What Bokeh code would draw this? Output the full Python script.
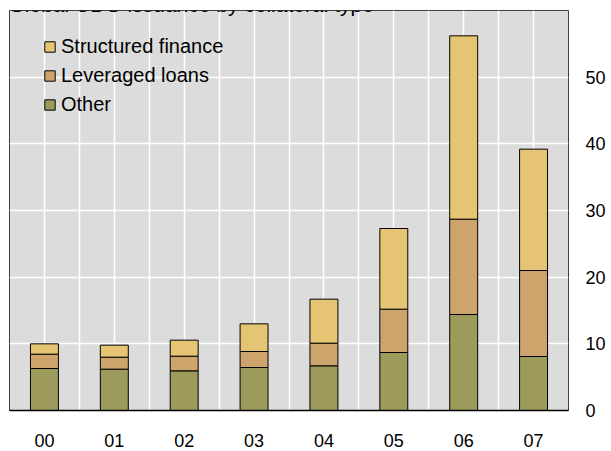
from bokeh.plotting import figure
from bokeh.models import FixedTicker, Range1d, Legend, LegendItem, Label, ColumnDataSource
from bokeh.embed import file_html
from bokeh.resources import INLINE

title_text = "Global CDO issuance by collateral type"
years = ["00", "01", "02", "03", "04", "05", "06", "07"]
series_names = ["Structured finance", "Leveraged loans", "Other"]
other = [6.3, 6.2, 5.95, 6.45, 6.7, 8.7, 14.4, 8.1]
leveraged = [2.15, 1.8, 2.2, 2.4, 3.4, 6.5, 14.3, 12.9]
structured = [1.55, 1.8, 2.4, 4.15, 6.6, 12.1, 27.5, 18.2]
y_ticks = [0, 10, 20, 30, 40, 50]

colors = {"Other": "#9C9B5C", "Leveraged loans": "#CDA46B", "Structured finance": "#E5C574"}
FONT = "Liberation Sans"

xs = list(range(len(years)))
src = ColumnDataSource(dict(x=xs, other=other, leveraged=leveraged, structured=structured))

p = figure(frame_width=559, frame_height=400, output_backend="svg", toolbar_location=None,
           x_range=Range1d(-0.5, len(years) - 0.5), y_range=Range1d(0, 60),
           y_axis_location="right", min_border_left=9, min_border_top=10,
           min_border_bottom=0, min_border_right=0)

p.background_fill_color = "#DCDCDC"
p.border_fill_color = "white"
p.outline_line_color = "#404040"
p.outline_line_width = 1

renderers = p.vbar_stack(["other", "leveraged", "structured"], x="x", width=0.4, source=src,
                         color=[colors["Other"], colors["Leveraged loans"], colors["Structured finance"]],
                         line_color="black", line_width=1)

# grids
p.xgrid.ticker = FixedTicker(ticks=[i * 0.5 for i in range(0, 2 * len(years) - 1)])
p.xgrid.grid_line_color = "white"
p.xgrid.grid_line_width = 1.5
p.ygrid.ticker = FixedTicker(ticks=y_ticks[1:])
p.ygrid.grid_line_color = "white"
p.ygrid.grid_line_width = 1.5
p.grid.level = "underlay"

# x axis
p.xaxis.ticker = FixedTicker(ticks=xs)
p.xaxis.major_label_overrides = {i: y for i, y in enumerate(years)}
p.xaxis.major_tick_line_color = None
p.xaxis.minor_tick_line_color = None
p.xaxis.major_tick_out = 0
p.xaxis.major_tick_in = 0
p.xaxis.axis_line_color = "black"
p.xaxis.axis_line_width = 1.5
p.xaxis.major_label_standoff = 23
p.xaxis.major_label_text_font = FONT
p.xaxis.major_label_text_font_size = "18px"
p.xaxis.major_label_text_color = "black"

# y axis (right)
p.yaxis.ticker = FixedTicker(ticks=y_ticks)
p.yaxis.major_tick_line_color = None
p.yaxis.minor_tick_line_color = None
p.yaxis.major_tick_out = 0
p.yaxis.major_tick_in = 0
p.yaxis.axis_line_color = None
p.yaxis.major_label_standoff = 17
p.yaxis.major_label_text_font = FONT
p.yaxis.major_label_text_font_size = "18px"
p.yaxis.major_label_text_color = "black"

# legend
items = [LegendItem(label="Structured finance", renderers=[renderers[2]]),
         LegendItem(label="Leveraged loans", renderers=[renderers[1]]),
         LegendItem(label="Other", renderers=[renderers[0]])]
legend = Legend(items=items, location=(34, 294), margin=0, padding=0,
                background_fill_alpha=0, border_line_alpha=0,
                glyph_width=13, glyph_height=13, label_standoff=5, spacing=6,
                label_text_font=FONT, label_text_font_size="20px", label_text_color="black")
p.add_layout(legend, "center")

# title (cropped at the top edge, as in the reference)
title = Label(x=-0.5, y=60, x_offset=-1, y_offset=6, text=title_text,
              text_font=FONT, text_font_size="21px", text_color="black",
              text_baseline="alphabetic", text_align="left")
p.add_layout(title)

open("out.html", "w").write(file_html(p, INLINE))
